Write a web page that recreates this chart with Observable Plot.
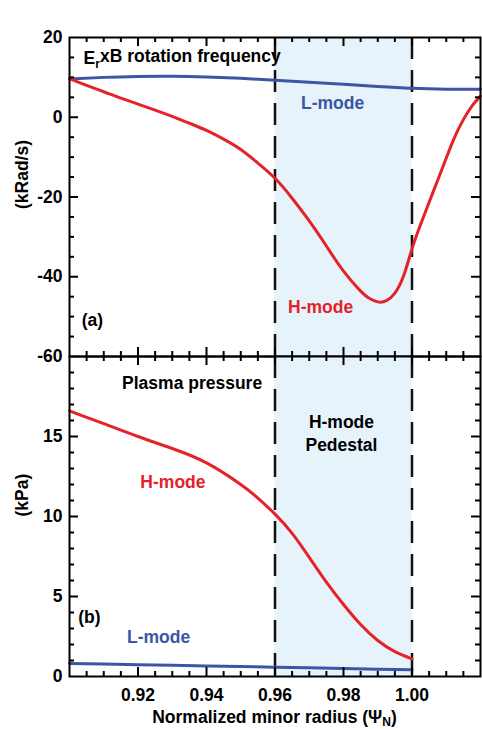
<!DOCTYPE html>
<html>
<head>
<meta charset="utf-8">
<script src="https://cdn.jsdelivr.net/npm/d3@7"></script>
<script src="https://cdn.jsdelivr.net/npm/@observablehq/plot@0.6"></script>
<style>
  body { margin: 0; background: #fff; }
  #wrap { position: relative; width: 482px; height: 729px; font-family: "Liberation Sans", Arial, Helvetica, sans-serif; font-weight: bold; }
  #wrap svg { position: absolute; left: 0; overflow: visible; }
  #xlabel { position: absolute; left: 69px; width: 411px; top: 707px; line-height: 20px; font-size: 17.5px; text-align: center; color: #000; }
  #xlabel sub { font-size: 12px; vertical-align: -3px; line-height: 0; }
</style>
</head>
<body>
<div id="wrap"><div id="xlabel">Normalized minor radius (&Psi;<sub>N</sub>)</div></div>
<script>
// ---------- data ----------
const psiRotL = [0.90, 0.91, 0.92, 0.93, 0.94, 0.95, 0.96, 0.97, 0.98, 0.99, 1.00, 1.01, 1.02];
const rotL    = [9.6, 10.0, 10.25, 10.3, 10.1, 9.75, 9.3, 8.8, 8.25, 7.7, 7.25, 7.05, 7.05];

const psiRotH = [0.90, 0.905, 0.91, 0.915, 0.92, 0.925, 0.93, 0.935, 0.94, 0.945, 0.95, 0.955, 0.96, 0.965, 0.97, 0.975, 0.98, 0.985, 0.9875, 0.99, 0.9925, 0.995, 0.9975, 1.00, 1.0025, 1.005, 1.0075, 1.01, 1.0125, 1.015, 1.0175, 1.02];
const rotH    = [9.7, 8.0, 6.4, 4.8, 3.3, 1.8, 0.2, -1.5, -3.3, -5.5, -8.1, -11.5, -15.3, -20.3, -26.0, -32.3, -38.6, -43.6, -45.4, -46.3, -46.0, -44.1, -39.9, -33.0, -26.9, -21.3, -15.8, -10.2, -4.9, -0.6, 2.8, 5.3];

const psiPresH = [0.90, 0.905, 0.91, 0.92, 0.93, 0.94, 0.95, 0.955, 0.96, 0.965, 0.97, 0.975, 0.98, 0.985, 0.99, 0.995, 1.00];
const presH    = [16.6, 16.2, 15.8, 15.0, 14.25, 13.35, 12.0, 11.15, 10.15, 8.95, 7.45, 5.9, 4.5, 3.25, 2.25, 1.55, 1.1];

const psiPresL = [0.90, 0.92, 0.94, 0.96, 0.98, 1.00];
const presL    = [0.82, 0.74, 0.66, 0.58, 0.50, 0.42];

const pedestal = [0.96, 1.00];

const xMajorTicks = [0.92, 0.94, 0.96, 0.98, 1.00];
const xMinorTicks = [0.905, 0.91, 0.915, 0.925, 0.93, 0.935, 0.945, 0.95, 0.955, 0.965, 0.97, 0.975, 0.985, 0.99, 0.995, 1.005, 1.01, 1.015];
const xTickLabels = [0.92, 0.94, 0.96, 0.98, 1.00];

const rotMajorTicks = [-40, -20, 0];
const rotMinorTicks = [-55, -50, -45, -35, -30, -25, -15, -10, -5, 5, 10, 15];
const rotTickLabels = [-60, -40, -20, 0, 20];

const presMajorTicks = [5, 10, 15];
const presMinorTicks = [1, 2, 3, 4, 6, 7, 8, 9, 11, 12, 13, 14, 16, 17, 18, 19];
const presTickLabels = [0, 5, 10, 15];

const topTexts = ["ErxB rotation frequency", "L-mode", "H-mode", "(a)", "(kRad/s)"];
const botTexts = ["Plasma pressure", "H-mode\nPedestal", "H-mode", "(b)", "L-mode", "(kPa)"];

// ---------- styles ----------
const RED = "#e4222a", BLUE = "#3c55a5", SHADE = "#e6f3fb";
const FONT = '"Liberation Sans", Arial, Helvetica, sans-serif';
const style = { fontFamily: FONT, fontSize: "17.5px", fontWeight: "bold", background: "transparent", color: "#000" };
const W = 482, ML = 69, MR = 2, FW = W - ML - MR;
const MAJOR = 9, MINOR = 5;

function inwardTicks(xMaj, xMin, yMaj, yMin, FH) {
  const m = [];
  for (const [vals, len] of [[xMaj, MAJOR], [xMin, MINOR]]) {
    m.push(Plot.tickX(vals, { x: d => d, insetTop: FH - len, stroke: "#000", strokeWidth: 2 }));
    m.push(Plot.tickX(vals, { x: d => d, insetBottom: FH - len, stroke: "#000", strokeWidth: 2 }));
  }
  for (const [vals, len] of [[yMaj, MAJOR], [yMin, MINOR]]) {
    m.push(Plot.tickY(vals, { y: d => d, insetRight: FW - len, stroke: "#000", strokeWidth: 2 }));
    m.push(Plot.tickY(vals, { y: d => d, insetLeft: FW - len, stroke: "#000", strokeWidth: 2 }));
  }
  return m;
}

const shadeMarks = [
  Plot.rect([pedestal], { x1: d => d[0], x2: d => d[1], fill: SHADE }),
  Plot.ruleX(pedestal, { stroke: "#111", strokeWidth: 2.5, strokeDasharray: "22,11" })
];
const fmtY = d => String(d);

// ---------- top panel ----------
const TOP_H = 360, TOP_MT = 37, TOP_MB = 4;
const topPlot = Plot.plot({
  width: W, height: TOP_H,
  marginTop: TOP_MT, marginBottom: TOP_MB, marginLeft: ML, marginRight: MR,
  x: { domain: [0.90, 1.02], axis: null },
  y: { domain: [-60, 20], axis: null },
  style,
  marks: [
    ...shadeMarks,
    Plot.line(rotL, { x: psiRotL, y: rotL, stroke: BLUE, strokeWidth: 3, curve: "natural" }),
    Plot.line(rotH, { x: psiRotH, y: rotH, stroke: RED, strokeWidth: 3, curve: "natural" }),
    Plot.text([topTexts[0]], { x: 0.9041, y: 14.75, textAnchor: "start", fill: "#000" }),
    Plot.text([topTexts[1]], { x: 0.9768, y: 3.5, fill: BLUE }),
    Plot.text([topTexts[2]], { x: 0.9733, y: -47.75, fill: RED }),
    Plot.text([topTexts[3]], { x: 0.9067, y: -51, fill: "#000" }),
    Plot.text([topTexts[4]], { frameAnchor: "left", dx: -47, dy: 12, rotate: -90, fill: "#000" }),
    Plot.frame({ stroke: "#000", strokeWidth: 2 }),
    ...inwardTicks(xMajorTicks, xMinorTicks, rotMajorTicks, rotMinorTicks, TOP_H - TOP_MT - TOP_MB),
    Plot.axisY(rotTickLabels, { anchor: "left", tickSize: 0, tickPadding: 7, label: null, tickFormat: fmtY })
  ]
});

// ---------- bottom panel ----------
const BOT_H = 377, BOT_MT = 4, BOT_MB = 53;
const botPlot = Plot.plot({
  width: W, height: BOT_H,
  marginTop: BOT_MT, marginBottom: BOT_MB, marginLeft: ML, marginRight: MR,
  x: { domain: [0.90, 1.02] },
  y: { domain: [0, 20] },
  style,
  marks: [
    ...shadeMarks,
    Plot.line(presL, { x: psiPresL, y: presL, stroke: BLUE, strokeWidth: 3, curve: "natural" }),
    Plot.line(presH, { x: psiPresH, y: presH, stroke: RED, strokeWidth: 3, curve: "natural" }),
    Plot.text([botTexts[0]], { x: 0.9358, y: 18.3, fill: "#000" }),
    Plot.text([botTexts[1]], { x: 0.9794, y: 15.28, fill: "#000", lineHeight: 1.35 }),
    Plot.text([botTexts[2]], { x: 0.9302, y: 12.125, fill: RED }),
    Plot.text([botTexts[3]], { x: 0.9058, y: 3.69, fill: "#000" }),
    Plot.text([botTexts[4]], { x: 0.926, y: 2.44, fill: BLUE }),
    Plot.text([botTexts[5]], { frameAnchor: "left", dx: -47, rotate: -90, fill: "#000" }),
    Plot.frame({ stroke: "#000", strokeWidth: 2 }),
    ...inwardTicks(xMajorTicks, xMinorTicks, presMajorTicks, presMinorTicks, BOT_H - BOT_MT - BOT_MB),
    Plot.axisY(presTickLabels, { anchor: "left", tickSize: 0, tickPadding: 7, label: null, tickFormat: fmtY }),
    Plot.axisX(xTickLabels, { anchor: "bottom", tickSize: 0, tickPadding: 12, label: null, tickFormat: d => d.toFixed(2) })
  ]
});

const wrap = document.getElementById("wrap");
topPlot.style.top = "0px";
botPlot.style.top = (TOP_H - TOP_MB - BOT_MT) + "px";
wrap.appendChild(topPlot);
wrap.appendChild(botPlot);

// subscript r in the E_r x B title
d3.select(topPlot).selectAll("text").filter(function () { return this.textContent === topTexts[0]; })
  .each(function () {
    const t = d3.select(this);
    const s = topTexts[0];
    t.text(null);
    t.append("tspan").text(s.slice(0, 1));
    t.append("tspan").attr("dy", "0.35em").attr("font-size", "12px").text(s.slice(1, 2));
    t.append("tspan").attr("dy", "-0.35em").text(s.slice(2));
  });
</script>
</body>
</html>
